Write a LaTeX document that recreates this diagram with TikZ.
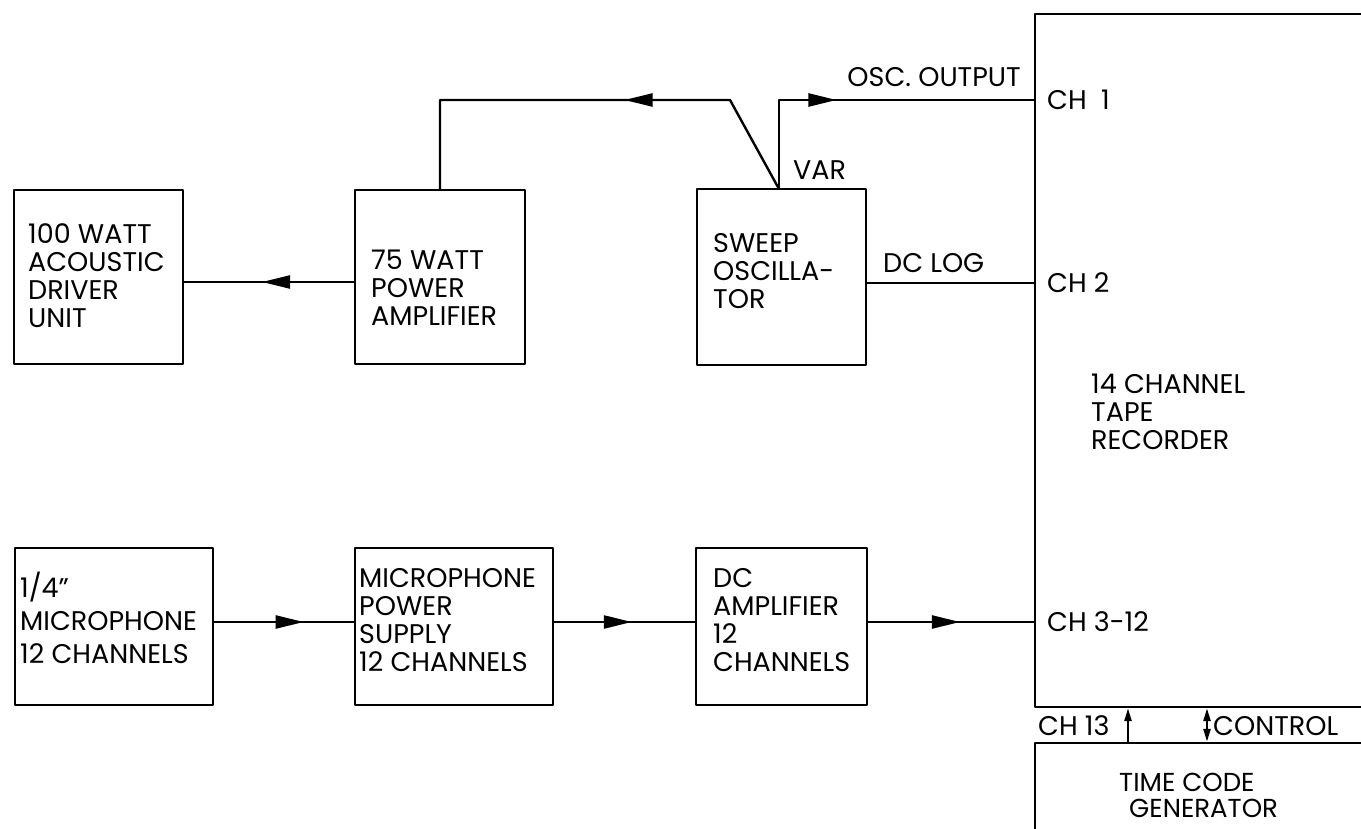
\documentclass[tikz,border=0pt]{standalone}
\usepackage{fontspec}
\setmainfont{Poppins}
\usetikzlibrary{arrows.meta,decorations.markings}
\begin{document}
\begin{tikzpicture}[x=1pt,y=-1pt,line width=2.4pt,line join=round,
  blk/.style={draw,rectangle,inner sep=0pt},
  lbl/.style={inner sep=0pt,align=left,font=\fontsize{27}{28}\selectfont},
  mid/.style={postaction={decorate},decoration={markings,
     mark=at position #1 with {\arrow{Triangle[length=28pt,width=13pt]}}}},
  sm/.style={-{Triangle[length=13pt,width=7pt]}},
  smm/.style={{Triangle[length=13pt,width=7pt]}-{Triangle[length=13pt,width=7pt]}}]
\clip (0,0) rectangle (1361,829);
\fill[white] (0,0) rectangle (1361,829);
% boxes
\node[blk,minimum width=169,minimum height=174] (A) at (98.5,277) {};
\node[blk,minimum width=170,minimum height=174] (B) at (440,277) {};
\node[blk,minimum width=169,minimum height=176] (C) at (781.5,277) {};
\node[blk,minimum width=198,minimum height=157] (D) at (114,626.5) {};
\node[blk,minimum width=198,minimum height=157] (E) at (454,626.5) {};
\node[blk,minimum width=171,minimum height=157] (F) at (781.5,626.5) {};
\node[blk,minimum width=340,minimum height=693] (R) at (1205,360.5) {};
\node[blk,minimum width=340,minimum height=107] (T) at (1205,796.5) {};
% box texts
\node[lbl,anchor=west] (tA) at (27,276) {100 WATT\\ACOUSTIC\\DRIVER\\UNIT};
\node[lbl,anchor=west] (tB) at (370,288) {75 WATT\\POWER\\AMPLIFIER};
\node[lbl,anchor=west] (tC) at (712,271) {SWEEP\\OSCILLA-\\TOR};
\node[lbl,anchor=west,font=\fontsize{27}{33}\selectfont] (tD) at (19,618) {1/4"\\MICROPHONE\\12 CHANNELS};
\node[lbl,anchor=west] (tE) at (358,620) {MICROPHONE\\POWER\\SUPPLY\\12 CHANNELS};
\node[lbl,anchor=west] (tF) at (712,620) {DC\\AMPLIFIER\\12\\CHANNELS};
\node[lbl,anchor=west] (tR) at (1090,412) {14 CHANNEL\\TAPE\\RECORDER};
\node[lbl,anchor=west,font=\fontsize{26}{26}\selectfont] (tT) at (1118,795) {TIME CODE\\\hspace*{10pt}GENERATOR};
% channel labels
\node[lbl,anchor=east] (osc) at (1022,77) {OSC. OUTPUT};
\node[lbl,anchor=west] (var) at (792,170) {VAR};
\node[lbl,anchor=west] (dclog) at (882,263) {DC LOG};
\node[lbl,anchor=west] (ch1) at (1046,100) {CH\ \ 1};
\node[lbl,anchor=west] (ch2) at (1046,283) {CH 2};
\node[lbl,anchor=west] (ch3) at (1046,622) {CH 3-12};
\node[lbl,anchor=west] (ch13) at (1037,726) {CH 13};
\node[lbl,anchor=west] (ctl) at (1212,726) {CONTROL};
% helper coordinates
\coordinate (vj) at (779,189);
\coordinate (k1) at (730,100);
\coordinate (k3) at (779,100);
\coordinate (yAB) at (0,282);
\coordinate (yDC) at (0,283);
\coordinate (yBot) at (0,622);
\coordinate (x13) at (1128,0);
\coordinate (xct) at (1207,0);
% connectors
\draw[mid=0.431] (vj) -- (k1) -- (B.north |- k1) -- (B.north);
\draw[mid=0.426] (vj) -- (k3) -- (R.west |- k3);
\draw[mid=0.541] (B.west |- yAB) -- (A.east |- yAB);
\draw (C.east |- yDC) -- (R.west |- yDC);
\draw[mid=0.641] (D.east |- yBot) -- (E.west |- yBot);
\draw[mid=0.552] (E.east |- yBot) -- (F.west |- yBot);
\draw[mid=0.554] (F.east |- yBot) -- (R.west |- yBot);
\draw[sm] (x13 |- T.north) -- (x13 |- R.south);
\draw[smm] (xct |- T.north) -- (xct |- R.south);
\end{tikzpicture}
\end{document}
